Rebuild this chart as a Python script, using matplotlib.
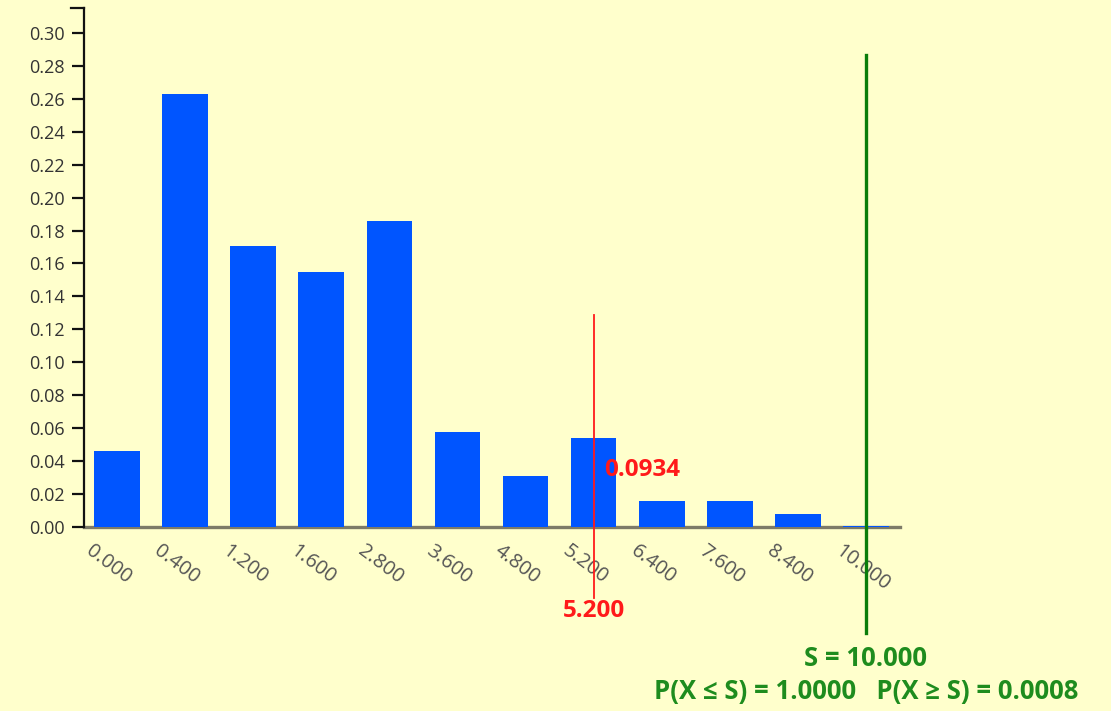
import matplotlib
matplotlib.use("Agg")
import matplotlib.pyplot as plt
from matplotlib.transforms import offset_copy, blended_transform_factory
from matplotlib.lines import Line2D

plt.rcParams['font.family'] = ['Open Sans', 'DejaVu Sans']

categories = ["0.000", "0.400", "1.200", "1.600", "2.800", "3.600",
              "4.800", "5.200", "6.400", "7.600", "8.400", "10.000"]
probs = [0.0461, 0.2630, 0.1706, 0.1548, 0.1858, 0.0577,
         0.0310, 0.0540, 0.0158, 0.0158, 0.0079, 0.0008]
y_ticks = [0.00, 0.02, 0.04, 0.06, 0.08, 0.10, 0.12, 0.14,
           0.16, 0.18, 0.20, 0.22, 0.24, 0.26, 0.28, 0.30]

marker_cat = "5.200"
marker_top = 0.1287
marker_value_label = "0.0934"
marker_label_y = 0.0346
s_cat = "10.000"
s_top = 0.2866
s_label = "S = 10.000"
prob_label = "P(X \u2264 S) = 1.0000   P(X \u2265 S) = 0.0008"

BG = "#FFFFCC"
W, H = 1111, 711
fig = plt.figure(figsize=(W / 100, H / 100), dpi=100, facecolor=BG)
ax = fig.add_axes([84 / W, (H - 527) / H, (900 - 84) / W, (527 - 8) / H])
ax.set_facecolor(BG)

x = list(range(len(categories)))
ax.bar(x, probs, width=0.67, color="#0055FF", zorder=2)
ax.set_xlim(-0.485, len(categories) - 0.5)
ax.set_ylim(0, 0.3151)

for s in ["top", "right"]:
    ax.spines[s].set_visible(False)
ax.spines["left"].set_color("#111111")
ax.spines["left"].set_linewidth(1.6)
ax.spines["bottom"].set_color("#7d7b68")
ax.spines["bottom"].set_linewidth(2.4)
ax.spines["bottom"].set_zorder(1.5)

ax.set_yticks(y_ticks)
ax.set_yticklabels([f"{v:.2f}" for v in y_ticks])
ax.tick_params(axis="y", length=9, width=1.6, color="#111111", pad=5,
               labelsize=13, labelcolor="#333333")
ax.set_xticks([])

# outer tick at top of y axis
ax.add_line(Line2D([-0.0155, 0], [1, 1], transform=ax.transAxes,
                   color="#111111", lw=1.6, clip_on=False))

# rotated category labels
tr = offset_copy(ax.transData, fig=fig, x=-29, y=-22, units="dots")
for i, c in enumerate(categories):
    ax.text(i, 0, c, transform=tr, rotation=-37, rotation_mode="anchor",
            ha="left", va="center", fontsize=14.5, color="#555555")

# red marker line
mi = categories.index(marker_cat)
ax.plot([mi, mi], [marker_top, -71 / 1647], color="#FF1A1A", lw=1.3,
        clip_on=False, zorder=4)
ax.text(mi + 0.16, marker_label_y, marker_value_label, color="#FF1A1A",
        fontsize=17.5, fontweight="bold", ha="left", va="center", zorder=5)
btr = blended_transform_factory(ax.transData, fig.transFigure)
ax.text(mi, (H - 611) / H, marker_cat, transform=btr, color="#FF1A1A",
        fontsize=17.5, fontweight="bold", ha="center", va="center")

# green S line
si = categories.index(s_cat)
ax.plot([si, si], [s_top, -106 / 1647], color="#0A7D0A", lw=2.4,
        clip_on=False, zorder=4)
ax.text(si, (H - 658) / H, s_label, transform=btr, color="#1E8C1E",
        fontsize=18.5, fontweight="bold", ha="center", va="center")
ax.text(si, (H - 691) / H, prob_label, transform=btr, color="#1E8C1E",
        fontsize=18.5, fontweight="bold", ha="center", va="center")

fig.savefig("out.png", dpi=100, facecolor=BG)
